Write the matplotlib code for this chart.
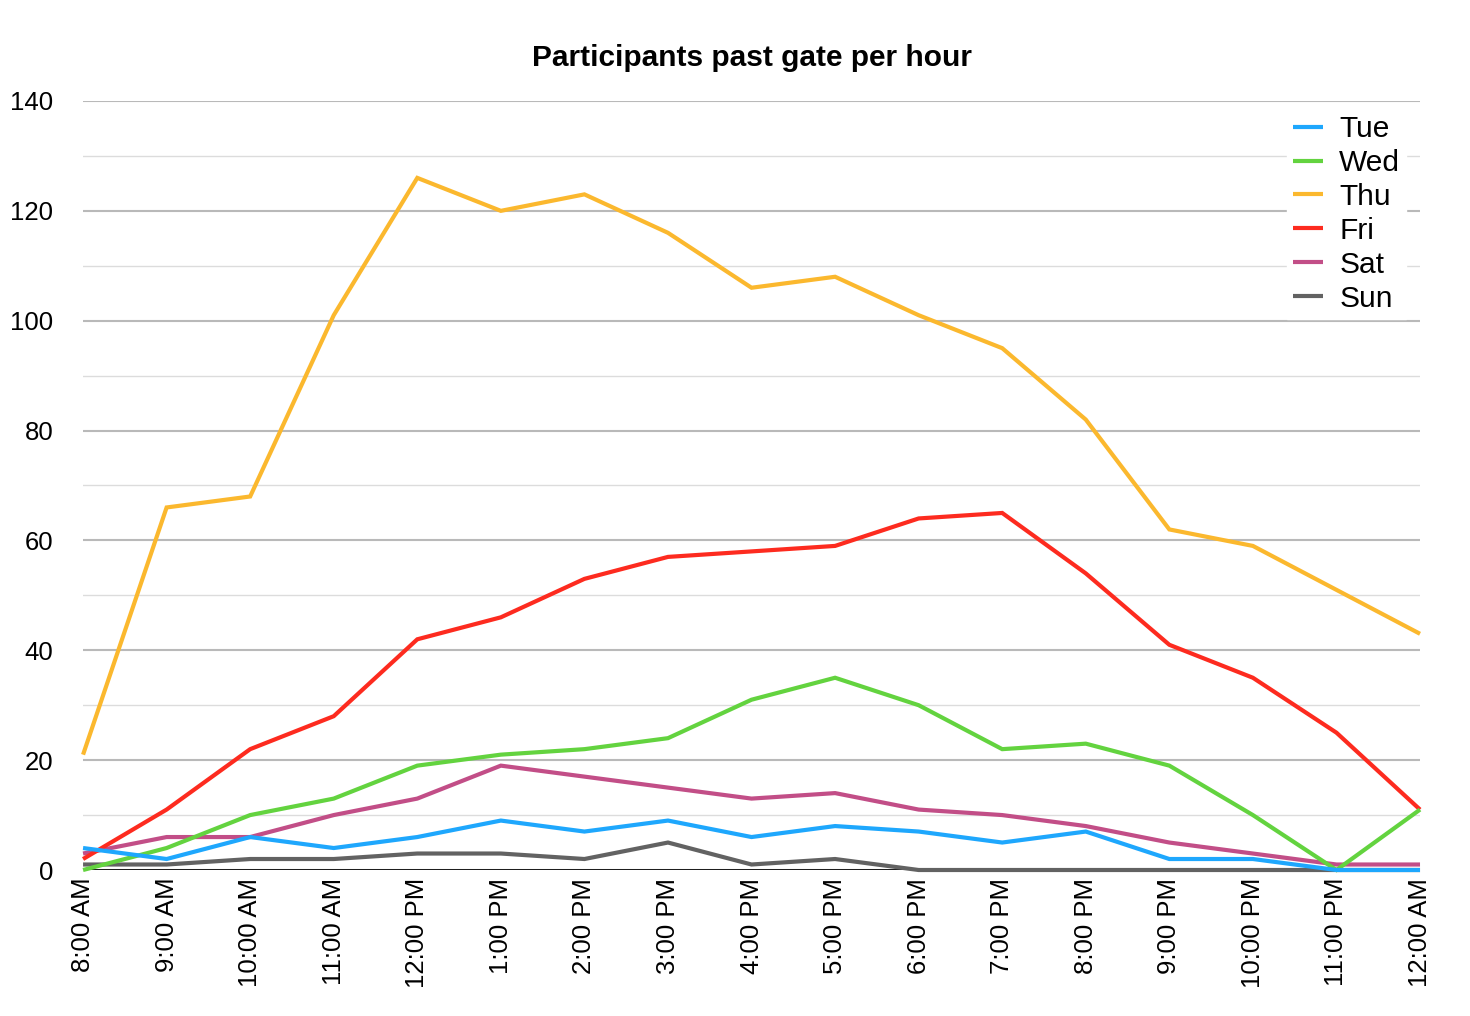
import matplotlib
matplotlib.use('Agg')
import matplotlib.pyplot as plt
from matplotlib.ticker import MultipleLocator

plt.rcParams['font.family'] = ['Liberation Sans', 'DejaVu Sans']

hours = ['8:00 AM', '9:00 AM', '10:00 AM', '11:00 AM', '12:00 PM', '1:00 PM',
         '2:00 PM', '3:00 PM', '4:00 PM', '5:00 PM', '6:00 PM', '7:00 PM',
         '8:00 PM', '9:00 PM', '10:00 PM', '11:00 PM', '12:00 AM']

tue = [4, 2, 6, 4, 6, 9, 7, 9, 6, 8, 7, 5, 7, 2, 2, 0, 0]
wed = [0, 4, 10, 13, 19, 21, 22, 24, 31, 35, 30, 22, 23, 19, 10, 0, 11]
thu = [21, 66, 68, 101, 126, 120, 123, 116, 106, 108, 101, 95, 82, 62, 59, 51, 43]
fri = [2, 11, 22, 28, 42, 46, 53, 57, 58, 59, 64, 65, 54, 41, 35, 25, 11]
sat = [3, 6, 6, 10, 13, 19, 17, 15, 13, 14, 11, 10, 8, 5, 3, 1, 1]
sun = [1, 1, 2, 2, 3, 3, 2, 5, 1, 2, 0, 0, 0, 0, 0, 0, 0]

series = [('Tue', tue, '#1ea7fd'), ('Wed', wed, '#63d33f'),
          ('Thu', thu, '#fbb82e'), ('Fri', fri, '#fd2b1f'),
          ('Sat', sat, '#c24e87'), ('Sun', sun, '#626262')]

fig = plt.figure(figsize=(14.7, 10.16), dpi=100)
ax = fig.add_axes([0.0565, 0.1437, 0.9095, 0.7569])

x = list(range(len(hours)))
# draw bottom-up so Tue ends on top like the reference
for name, vals, color in reversed(series):
    ax.plot(x, vals, color=color, linewidth=3, label=name, solid_capstyle='butt',
            solid_joinstyle='miter', clip_on=False)

ax.set_xlim(0, len(hours) - 1)
ax.set_ylim(0, 140)
ax.yaxis.set_major_locator(MultipleLocator(20))
ax.yaxis.set_minor_locator(MultipleLocator(10))
ax.grid(which='major', axis='y', color='#b9b9b9', linewidth=1.5)
ax.grid(which='minor', axis='y', color='#dcdcdc', linewidth=1)
ax.set_axisbelow(True)
ax.axhline(0, color='black', linewidth=1.2, zorder=1)

for s in ax.spines.values():
    s.set_visible(False)

ax.set_xticks(x)
ax.set_xticklabels(hours, rotation=90, fontsize=18.5)
ax.tick_params(axis='both', which='both', length=0)
ax.tick_params(axis='y', labelsize=18.5, pad=21.5)
ax.tick_params(axis='x', pad=5.5)

ax.set_title('Participants past gate per hour', fontsize=21.5, fontweight='bold', pad=25)

handles, labels = ax.get_legend_handles_labels()
leg = ax.legend(handles[::-1], labels[::-1], loc='upper left', fontsize=21.5,
                frameon=True, fancybox=False, edgecolor='white', framealpha=1,
                handlelength=1.0, handletextpad=0.55, labelspacing=0.2,
                borderaxespad=0, borderpad=0.2,
                bbox_to_anchor=(0.8755, 0.8927), bbox_transform=fig.transFigure)

fig.savefig('out.png', dpi=100)
